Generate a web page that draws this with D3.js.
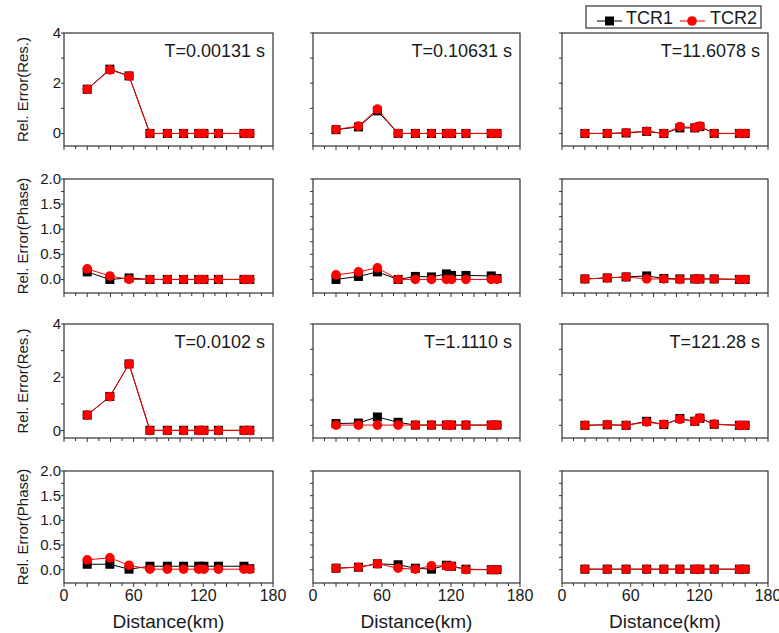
<!DOCTYPE html>
<html>
<head>
<meta charset="utf-8">
<script src="https://cdn.jsdelivr.net/npm/d3@7"></script>
<style>
  body { margin: 0; background: #fff; }
  svg { font-family: "Liberation Sans", Arial, sans-serif; }
</style>
</head>
<body>
<div id="chart"></div>
<script>
var svgWidth = 779;
var svgHeight = 633;

// data
var distance = [20, 39.5, 56, 74, 89, 103, 116, 120.5, 133, 155, 160];
var periods = ["T=0.00131 s", "T=0.10631 s", "T=11.6078 s", "T=0.0102 s", "T=1.1110 s", "T=121.28 s"];

var resTCR1 = [
	[1.76, 2.56, 2.29, 0, 0, 0, 0, 0, 0, 0, 0],
	[0.15, 0.26, 0.90, 0, 0, 0, 0, 0, 0, 0, 0],
	[0, 0, 0.02, 0.08, 0, 0.22, 0.22, 0.27, 0, 0, 0],
	[0.58, 1.28, 2.5, 0.01, 0.01, 0.01, 0.01, 0.01, 0.01, 0.01, 0.01],
	[0.07, 0.09, 0.33, 0.12, 0.01, 0.01, 0.01, 0.01, 0.01, 0.01, 0.01],
	[0, 0.02, 0, 0.16, 0.03, 0.27, 0.16, 0.28, 0.04, 0, 0]
];
var resTCR2 = [
	[1.76, 2.53, 2.29, 0, 0, 0, 0, 0, 0, 0, 0],
	[0.16, 0.29, 0.97, 0, 0, 0, 0, 0, 0, 0, 0],
	[0, 0, 0.03, 0.09, 0, 0.27, 0.23, 0.29, 0, 0, 0],
	[0.58, 1.27, 2.5, 0, 0, 0, 0, 0, 0, 0, 0],
	[0.01, 0.01, 0.01, 0.01, 0.01, 0.01, 0.01, 0.01, 0.01, 0.01, 0.01],
	[0, 0.03, 0, 0.13, 0.04, 0.24, 0.16, 0.29, 0.05, 0, 0]
];
var phaseTCR1 = [
	[0.15, 0.0, 0.03, 0, 0, 0, 0, 0, 0, 0, 0],
	[0.0, 0.06, 0.15, 0.0, 0.06, 0.05, 0.11, 0.08, 0.08, 0.07, 0.02],
	[0.01, 0.03, 0.05, 0.07, 0.02, 0.01, 0.01, 0.01, 0.01, 0, 0],
	[0.11, 0.11, 0.01, 0.07, 0.07, 0.07, 0.07, 0.07, 0.07, 0.07, 0.02],
	[0.03, 0.05, 0.12, 0.10, 0.03, 0.01, 0.09, 0.07, 0.01, 0, 0],
	[0.01, 0.01, 0.01, 0.01, 0.01, 0.01, 0.01, 0.01, 0.01, 0.01, 0.01]
];
var phaseTCR2 = [
	[0.21, 0.07, 0, 0, 0, 0, 0, 0, 0, 0, 0],
	[0.09, 0.15, 0.23, 0, 0, 0, 0, 0, 0, 0, 0],
	[0.01, 0.03, 0.05, 0.01, 0.01, 0, 0.01, 0.01, 0.01, 0, 0],
	[0.20, 0.24, 0.09, 0.01, 0.01, 0.01, 0.01, 0.01, 0.01, 0.01, 0.01],
	[0.03, 0.05, 0.12, 0.03, 0.01, 0.08, 0.07, 0.07, 0, 0, 0],
	[0.01, 0.01, 0.01, 0.01, 0.01, 0.01, 0.01, 0.01, 0.01, 0.01, 0.01]
];
var xTickLabels = [0, 60, 120, 180];

// layout
var colX = [[64, 273], [313, 520], [562, 768]];
var rowY = [[33, 146], [179, 293], [324, 438], [471, 583]];
var textColor = "#1a1a1a";
var frameColor = "#333";

var svg = d3.select("#chart")
	.append("svg")
	.attr("width", svgWidth)
	.attr("height", svgHeight);

for (var r = 0; r < 4; r++) {
	for (var c = 0; c < 3; c++) {
		drawPanel(r, c);
	}
}

function drawPanel(r, c) {
	var isRes = (r % 2 === 0);
	var p = (r < 2 ? 0 : 3) + c;
	var x0 = colX[c][0], x1 = colX[c][1];
	var y0 = rowY[r][0], y1 = rowY[r][1];

	var yDomain;
	if (isRes) {
		yDomain = (p === 3) ? [-0.28, 4] : [-0.5, 4];
	} else {
		yDomain = [-0.27, 2];
	}

	var x = d3.scaleLinear().domain([0, 180]).range([x0, x1]);
	var y = d3.scaleLinear().domain(yDomain).range([y1, y0]);

	var g = svg.append("g");

	// frame
	g.append("rect")
		.attr("x", x0)
		.attr("y", y0)
		.attr("width", x1 - x0)
		.attr("height", y1 - y0)
		.attr("fill", "none")
		.attr("stroke", frameColor)
		.attr("stroke-width", 1.2);

	// bottom ticks
	var xTicks = d3.range(0, 181, 10);
	g.selectAll(".xt")
		.data(xTicks)
		.enter()
		.append("line")
		.attr("x1", d => x(d))
		.attr("x2", d => x(d))
		.attr("y1", y1)
		.attr("y2", d => y1 + (d % 20 === 0 ? 4 : 3))
		.attr("stroke", frameColor)
		.attr("stroke-width", 1);

	// left ticks
	var yTicks = isRes ? [0, 1, 2, 3, 4] : d3.range(0, 2.01, 0.25);
	g.selectAll(".yt")
		.data(yTicks)
		.enter()
		.append("line")
		.attr("x1", x0 - 3)
		.attr("x2", x0)
		.attr("y1", d => y(d))
		.attr("y2", d => y(d))
		.attr("stroke", frameColor)
		.attr("stroke-width", 1);

	if (c === 0) {
		var yLabels = isRes ? [0, 2, 4] : [0, 0.5, 1, 1.5, 2];
		g.selectAll(".yl")
			.data(yLabels)
			.enter()
			.append("text")
			.attr("x", x0 - 3)
			.attr("y", d => y(d) + 5)
			.attr("text-anchor", "end")
			.attr("font-size", "15px")
			.attr("fill", textColor)
			.text(d => isRes ? d : d3.format(".1f")(d));

		g.append("text")
			.attr("transform", "translate(28," + ((y0 + y1) / 2) + ") rotate(-90)")
			.attr("text-anchor", "middle")
			.attr("font-size", "15px")
			.attr("fill", textColor)
			.text(isRes ? "Rel. Error(Res.)" : "Rel. Error(Phase)");
	}

	if (r === 3) {
		g.selectAll(".xl")
			.data(xTickLabels)
			.enter()
			.append("text")
			.attr("x", d => x(d))
			.attr("y", y1 + 18)
			.attr("text-anchor", "middle")
			.attr("font-size", "16px")
			.attr("fill", textColor)
			.text(d => d);

		g.append("text")
			.attr("x", (x0 + x1) / 2)
			.attr("y", 628)
			.attr("text-anchor", "middle")
			.attr("font-size", "19px")
			.attr("fill", textColor)
			.text("Distance(km)");
	}

	if (isRes) {
		g.append("text")
			.attr("x", x1 - 8)
			.attr("y", y0 + 24)
			.attr("text-anchor", "end")
			.attr("font-size", "18px")
			.attr("fill", textColor)
			.text(periods[p]);
	}

	var s1 = isRes ? resTCR1[p] : phaseTCR1[p];
	var s2 = isRes ? resTCR2[p] : phaseTCR2[p];

	var line = d3.line()
		.x((d, i) => x(distance[i]))
		.y(d => y(d));

	// TCR1
	g.append("path")
		.datum(s1)
		.attr("d", line)
		.attr("fill", "none")
		.attr("stroke", "#000")
		.attr("stroke-width", 1);
	g.selectAll(".sq")
		.data(s1)
		.enter()
		.append("rect")
		.attr("x", (d, i) => x(distance[i]) - 4.5)
		.attr("y", d => y(d) - 4.5)
		.attr("width", 9)
		.attr("height", 9)
		.attr("fill", "#000");

	// TCR2
	g.append("path")
		.datum(s2)
		.attr("d", line)
		.attr("fill", "none")
		.attr("stroke", "#ff0000")
		.attr("stroke-width", 1);
	g.selectAll(".ci")
		.data(s2)
		.enter()
		.append("circle")
		.attr("cx", (d, i) => x(distance[i]))
		.attr("cy", d => y(d))
		.attr("r", 4.8)
		.attr("fill", "#ff0000");
}

// legend
var legend = svg.append("g");
legend.append("rect")
	.attr("x", 586)
	.attr("y", 6)
	.attr("width", 175)
	.attr("height", 22)
	.attr("fill", "#fff")
	.attr("stroke", frameColor)
	.attr("stroke-width", 1.2);

legend.append("line")
	.attr("x1", 597).attr("x2", 622)
	.attr("y1", 21).attr("y2", 21)
	.attr("stroke", "#000");
legend.append("rect")
	.attr("x", 605).attr("y", 16.5)
	.attr("width", 9).attr("height", 9)
	.attr("fill", "#000");
legend.append("text")
	.attr("x", 626).attr("y", 24)
	.attr("font-size", "18px")
	.attr("fill", textColor)
	.text("TCR1");

legend.append("line")
	.attr("x1", 680).attr("x2", 705)
	.attr("y1", 21).attr("y2", 21)
	.attr("stroke", "#ff0000");
legend.append("circle")
	.attr("cx", 692).attr("cy", 21)
	.attr("r", 4.8)
	.attr("fill", "#ff0000");
legend.append("text")
	.attr("x", 710).attr("y", 24)
	.attr("font-size", "18px")
	.attr("fill", textColor)
	.text("TCR2");
</script>
</body>
</html>
